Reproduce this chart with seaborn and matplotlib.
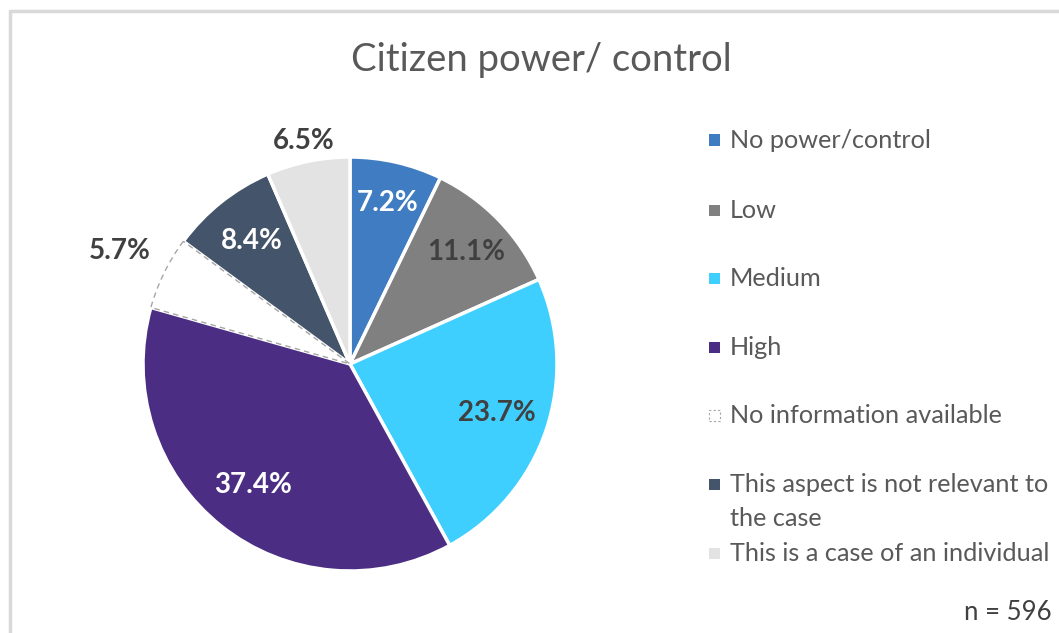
import numpy as np
import matplotlib
matplotlib.use("Agg")
import matplotlib.pyplot as plt
from matplotlib.lines import Line2D
from matplotlib.patches import Rectangle
import seaborn as sns

categories = ["No power/control", "Low", "Medium", "High",
              "No information available",
              "This aspect is not relevant to\nthe case",
              "This is a case of an individual"]
values = [7.2, 11.1, 23.7, 37.4, 5.7, 8.4, 6.5]
colors = ["#3F7CC2", "#808080", "#3FCFFE", "#4B2E83", "#FFFFFF", "#44546A", "#E3E3E3"]
label_colors = ["white", "#404040", "#404040", "white", "#404040", "white", "#404040"]
label_dist = [0.80, 0.78, 0.75, 0.75, 1.24, 0.76, 1.10]

sns.set_style("white")
plt.rcParams['font.family'] = ['Lato', 'DejaVu Sans']

fig = plt.figure(figsize=(10.59, 6.33), dpi=100)
W, H = 1059, 633
cx, cy, r = 350, 364, 207
ax = fig.add_axes([(cx - r) / W, (H - cy - r) / H, 2 * r / W, 2 * r / H])

wedges, _ = ax.pie(values, colors=colors, startangle=90, counterclock=False,
                   wedgeprops=dict(edgecolor="white", linewidth=2.5))
# dashed outline for "No information available"
wedges[4].set_edgecolor("#A6A6A6")
wedges[4].set_linestyle((0, (4, 3)))
wedges[4].set_linewidth(1.0)
wedges[4].set_zorder(3)
ax.set_aspect("equal")
ax.set_xlim(-1, 1)
ax.set_ylim(-1, 1)
ax.axis("off")

for w, v, c, d in zip(wedges, values, label_colors, label_dist):
    ang = np.deg2rad((w.theta1 + w.theta2) / 2)
    ax.text(d * np.cos(ang), d * np.sin(ang), f"{v:.1f}%", ha="center", va="center",
            fontsize=20, fontweight="bold", color=c, zorder=5)

fig.text(541 / W, 1 - 60 / H, "Citizen power/ control", ha="center", va="center",
         fontsize=27.5, color="#595959")

# legend
ys = [140, 210, 278, 347, 415, 484, 553]
for y, lab, col, i in zip(ys, categories, colors, range(len(categories))):
    sq = 11
    rect = Rectangle(((714 - sq / 2) / W, (H - y - sq / 2) / H), sq / W, sq / H,
                     transform=fig.transFigure, facecolor=col,
                     edgecolor="#A6A6A6" if i == 4 else "none",
                     linestyle=(0, (2, 2)) if i == 4 else "-", linewidth=0.8)
    fig.add_artist(rect)
    for k, line in enumerate(lab.split("\n")):
        fig.text(730 / W, 1 - (y + 8 + 34 * k) / H, line, ha="left", va="baseline",
                 fontsize=18.2, color="#595959")

fig.text(1052 / W, 1 - 612 / H, "n = 596", ha="right", va="center", fontsize=18.5,
         color="#404040")

# chart border
fig.add_artist(Line2D([9.5 / W, 1], [1 - 11 / H, 1 - 11 / H], transform=fig.transFigure,
                      color="#D9D9D9", linewidth=2.5))
fig.add_artist(Line2D([9.5 / W, 9.5 / W], [0, 1 - 11 / H], transform=fig.transFigure,
                      color="#D9D9D9", linewidth=2.5))

fig.savefig("out.png", dpi=100, facecolor="white")
